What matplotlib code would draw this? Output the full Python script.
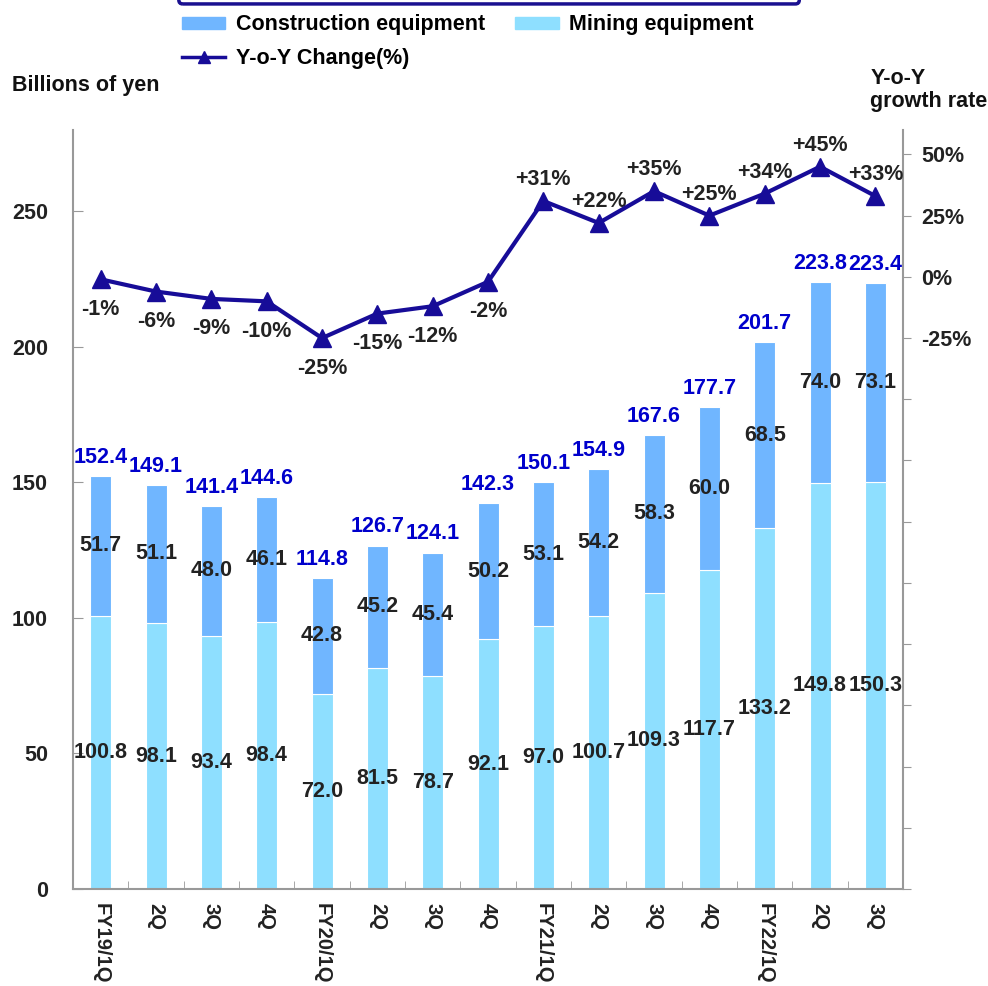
import matplotlib.pyplot as plt
import numpy as np
from matplotlib.patches import FancyBboxPatch, Patch
from matplotlib.lines import Line2D

plt.rcParams['font.family'] = ['Liberation Sans', 'DejaVu Sans']
plt.rcParams['font.weight'] = 'bold'

quarters = ['FY19/1Q', '2Q', '3Q', '4Q', 'FY20/1Q', '2Q', '3Q', '4Q',
            'FY21/1Q', '2Q', '3Q', '4Q', 'FY22/1Q', '2Q', '3Q']
mining = [100.8, 98.1, 93.4, 98.4, 72.0, 81.5, 78.7, 92.1,
          97.0, 100.7, 109.3, 117.7, 133.2, 149.8, 150.3]
construction = [51.7, 51.1, 48.0, 46.1, 42.8, 45.2, 45.4, 50.2,
                53.1, 54.2, 58.3, 60.0, 68.5, 74.0, 73.1]
totals = [152.4, 149.1, 141.4, 144.6, 114.8, 126.7, 124.1, 142.3,
          150.1, 154.9, 167.6, 177.7, 201.7, 223.8, 223.4]
yoy = [-1, -6, -9, -10, -25, -15, -12, -2, 31, 22, 35, 25, 34, 45, 33]

c_constr = '#70B6FF'
c_mining = '#8EDFFF'
c_line = '#170C98'
c_total = '#0000CC'
c_text = '#222222'
c_axis = '#999999'
fs = 15.5

fig = plt.figure(figsize=(9.88, 9.86), dpi=100)
ax = fig.add_axes([0.0739, 0.0984, 0.8401, 0.7698])

x = np.arange(len(quarters))
w = 0.38
ax.bar(x, mining, w, color=c_mining, edgecolor='white', linewidth=0.8)
ax.bar(x, construction, w, bottom=mining, color=c_constr, edgecolor='white', linewidth=0.8)

for i in range(len(x)):
    ax.text(x[i], mining[i] / 2, f'{mining[i]:.1f}', ha='center', va='center',
            fontsize=fs, color=c_text)
    ax.text(x[i], mining[i] + construction[i] / 2, f'{construction[i]:.1f}',
            ha='center', va='center', fontsize=fs, color=c_text)
    ax.text(x[i], totals[i] + 3, f'{totals[i]:.1f}', ha='center', va='bottom',
            fontsize=fs, color=c_total)

ax.set_xlim(-0.5, len(x) - 0.5)
ax.set_ylim(0, 280)
ax.set_yticks(np.arange(0, 251, 50))
ax.set_xticks(x)
ax.set_xticklabels(quarters, rotation=-90, va='top', ha='center', fontsize=14.5, color=c_text)
ax.set_xticks(x[:-1] + 0.5, minor=True)
ax.tick_params(axis='x', which='major', length=0, pad=10)
ax.tick_params(axis='x', which='minor', direction='in', length=6, color=c_axis)
ax.tick_params(axis='y', direction='in', length=7, color=c_axis, labelsize=fs,
               labelcolor=c_text, pad=18)
for s in ['top', 'right']:
    ax.spines[s].set_visible(False)
for s in ['left', 'bottom']:
    ax.spines[s].set_color(c_axis)
    ax.spines[s].set_linewidth(1.5)

# growth rate on the right axis
ax2 = ax.twinx()
ax2.plot(x, yoy, color=c_line, linewidth=3, marker='^', markersize=13, zorder=5)
ax2.set_ylim(-250, 60)
ax2.set_yticks(np.arange(-250, 51, 25))
ax2.set_yticklabels([f'{t}%' if t >= -25 else '' for t in range(-250, 51, 25)])
ax2.tick_params(axis='y', direction='out', length=6, color=c_axis, labelsize=fs,
                labelcolor=c_text, pad=7)
for s in ['top', 'left', 'bottom']:
    ax2.spines[s].set_visible(False)
ax2.spines['right'].set_color(c_axis)
ax2.spines['right'].set_linewidth(1.5)

for i, v in enumerate(yoy):
    if v < 0:
        ax2.annotate(f'{v}%', (x[i], v), xytext=(0, -14), textcoords='offset points',
                     ha='center', va='top', fontsize=fs, color=c_text)
    else:
        ax2.annotate(f'+{v}%', (x[i], v), xytext=(0, 8), textcoords='offset points',
                     ha='center', va='bottom', fontsize=fs, color=c_text)

fig.text(0.012, 0.913, 'Billions of yen', fontsize=fs, color='#111111', va='center')
fig.text(0.881, 0.909, 'Y-o-Y\ngrowth rate', fontsize=fs, color='#111111', va='center',
         linespacing=1.15)

# legend and the frame edge above it
fig.patches.append(FancyBboxPatch((0.185, 1.0), 0.62, 0.05, boxstyle='round,pad=0.004',
                                  transform=fig.transFigure, facecolor='none',
                                  edgecolor='#1A1090', linewidth=2.5))
handles = [Patch(color=c_constr), Line2D([], [], color=c_line, lw=2.5, marker='^', markersize=9),
           Patch(color=c_mining)]
labels = ['Construction equipment', 'Y-o-Y Change(%)', 'Mining equipment']
fig.legend(handles, labels, ncol=2, loc='upper left', bbox_to_anchor=(0.165, 1.005),
           frameon=False, fontsize=fs, handlelength=2.0, handleheight=0.5,
           columnspacing=1.4, labelspacing=0.6, handletextpad=0.5)

fig.savefig('out.png', dpi=100)
